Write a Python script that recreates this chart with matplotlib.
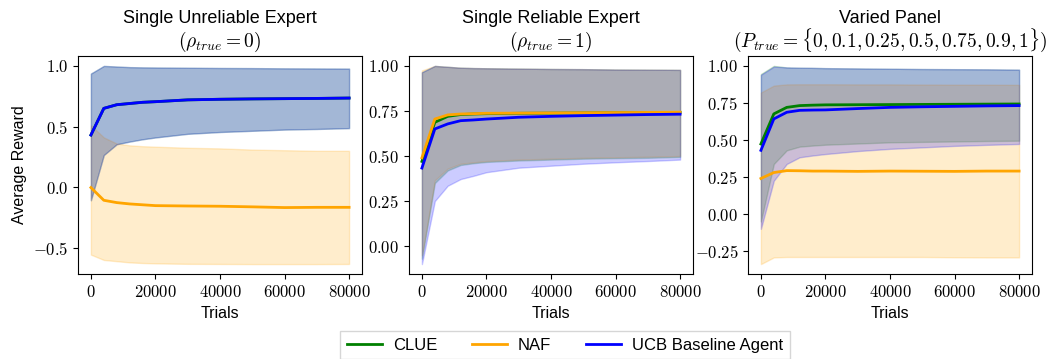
import matplotlib
matplotlib.use("Agg")
from matplotlib import pyplot as plt
from matplotlib.ticker import FuncFormatter

plt.rcParams['font.family'] = ['Liberation Sans', 'DejaVu Sans']
plt.rcParams['mathtext.fontset'] = 'cm'

trials = [0, 4000, 8000, 12000, 16000, 20000, 30000, 40000, 50000, 60000, 70000, 80000]

# Single Unreliable Expert
ucb1_mean = [0.43, 0.65, 0.68, 0.69, 0.70, 0.705, 0.72, 0.725, 0.728, 0.73, 0.732, 0.735]
ucb1_hi = [0.937, 1.0, 0.995, 0.99, 0.988, 0.987, 0.985, 0.983, 0.982, 0.98, 0.979, 0.978]
ucb1_lo = [-0.108, 0.265, 0.354, 0.376, 0.395, 0.41, 0.44, 0.455, 0.465, 0.475, 0.48, 0.487]
clue1_mean = ucb1_mean
clue1_hi = ucb1_hi
clue1_lo = ucb1_lo
naf1_mean = [-0.003, -0.108, -0.127, -0.138, -0.145, -0.152, -0.155, -0.157, -0.162, -0.168, -0.166, -0.166]
naf1_hi = [0.51, 0.41, 0.36, 0.345, 0.338, 0.334, 0.325, 0.32, 0.31, 0.305, 0.30, 0.30]
naf1_lo = [-0.556, -0.60, -0.61, -0.62, -0.625, -0.628, -0.632, -0.633, -0.634, -0.634, -0.634, -0.633]

# Single Reliable Expert
ucb2_mean = [0.433, 0.65, 0.678, 0.696, 0.70, 0.705, 0.715, 0.72, 0.724, 0.727, 0.73, 0.732]
ucb2_hi = [0.965, 1.0, 0.995, 0.99, 0.988, 0.987, 0.985, 0.983, 0.982, 0.98, 0.979, 0.978]
ucb2_lo = [-0.1, 0.25, 0.335, 0.372, 0.39, 0.41, 0.435, 0.446, 0.457, 0.465, 0.472, 0.48]
clue2_mean = [0.47, 0.687, 0.72, 0.73, 0.733, 0.735, 0.737, 0.738, 0.739, 0.74, 0.741, 0.742]
clue2_hi = [0.965, 1.0, 0.995, 0.99, 0.988, 0.987, 0.985, 0.983, 0.982, 0.98, 0.979, 0.978]
clue2_lo = [-0.07, 0.35, 0.42, 0.45, 0.46, 0.467, 0.475, 0.48, 0.485, 0.488, 0.49, 0.495]
naf2_mean = [0.49, 0.705, 0.728, 0.733, 0.735, 0.737, 0.738, 0.739, 0.74, 0.741, 0.742, 0.743]
naf2_hi = [0.975, 1.0, 0.995, 0.99, 0.988, 0.987, 0.985, 0.983, 0.982, 0.98, 0.979, 0.978]
naf2_lo = [-0.05, 0.365, 0.43, 0.457, 0.465, 0.472, 0.48, 0.485, 0.49, 0.493, 0.496, 0.50]

# Varied Panel
ucb3_mean = [0.43, 0.642, 0.687, 0.70, 0.702, 0.703, 0.712, 0.72, 0.724, 0.727, 0.73, 0.732]
ucb3_hi = [0.94, 0.995, 0.99, 0.988, 0.987, 0.985, 0.983, 0.981, 0.979, 0.978, 0.977, 0.975]
ucb3_lo = [-0.10, 0.225, 0.338, 0.383, 0.395, 0.405, 0.425, 0.44, 0.45, 0.46, 0.467, 0.473]
clue3_mean = [0.473, 0.676, 0.72, 0.732, 0.735, 0.737, 0.738, 0.739, 0.74, 0.741, 0.742, 0.743]
clue3_hi = [0.945, 1.0, 0.99, 0.988, 0.987, 0.985, 0.983, 0.981, 0.979, 0.978, 0.977, 0.975]
clue3_lo = [-0.05, 0.338, 0.43, 0.455, 0.462, 0.468, 0.476, 0.484, 0.487, 0.49, 0.493, 0.495]
naf3_mean = [0.24, 0.28, 0.293, 0.292, 0.29, 0.29, 0.288, 0.29, 0.289, 0.288, 0.29, 0.29]
naf3_hi = [0.82, 0.867, 0.875, 0.876, 0.876, 0.876, 0.875, 0.875, 0.874, 0.873, 0.873, 0.872]
naf3_lo = [-0.338, -0.293, -0.29, -0.29, -0.29, -0.29, -0.29, -0.29, -0.29, -0.292, -0.293, -0.293]

titles = ["Single Unreliable Expert", "Single Reliable Expert", "Varied Panel"]
subtitles = ["$(\\rho_{true} = 0)$",
             "$(\\rho_{true} = 1)$",
             "$(P_{true} = \\{0, 0.1, 0.25, 0.5, 0.75, 0.9, 1\\})$"]
agents = ["CLUE", "NAF", "UCB Baseline Agent"]
colors = ["green", "orange", "blue"]

panels = [
    [(clue1_mean, clue1_lo, clue1_hi), (naf1_mean, naf1_lo, naf1_hi), (ucb1_mean, ucb1_lo, ucb1_hi)],
    [(clue2_mean, clue2_lo, clue2_hi), (naf2_mean, naf2_lo, naf2_hi), (ucb2_mean, ucb2_lo, ucb2_hi)],
    [(clue3_mean, clue3_lo, clue3_hi), (naf3_mean, naf3_lo, naf3_hi), (ucb3_mean, ucb3_lo, ucb3_hi)],
]

fig = plt.figure(figsize=(10.5, 3.59), dpi=100, facecolor="white")
lefts = [78, 409, 748]
ydec = ["%.1f", "%.2f", "%.2f"]

for k in range(3):
    ax = fig.add_axes([lefts[k] / 1050, 1 - 274 / 359, 284 / 1050, 218 / 359])
    for (mean, lo, hi), c, name in zip(panels[k], colors, agents):
        ax.fill_between(trials, lo, hi, color=c, alpha=0.2)
        ax.plot(trials, mean, color=c, lw=2, label=name)
    # two-line title: sans text on top, math line below
    ax.annotate(titles[k], xy=(0.5, 1), xycoords="axes fraction", xytext=(0, 23.5),
                textcoords="offset points", ha="center", va="baseline", fontsize=13)
    ax.annotate(subtitles[k], xy=(0.5, 1), xycoords="axes fraction", xytext=(0, 6.5),
                textcoords="offset points", ha="center", va="baseline", fontsize=14)
    ax.set_xlabel("Trials", fontsize=11.5, labelpad=4.5)
    ax.set_xticks([0, 20000, 40000, 60000, 80000])
    ax.xaxis.set_major_formatter(FuncFormatter(lambda v, p: "$%d$" % v))
    fmt = ydec[k]
    ax.yaxis.set_major_formatter(FuncFormatter(lambda v, p, f=fmt: "$" + f % v + "$"))
    ax.tick_params(labelsize=12)
    if k == 0:
        ax.set_ylabel("Average Reward", fontsize=11.5)

handles, labels = ax.get_legend_handles_labels()
fig.legend(handles, labels, loc="upper center", bbox_to_anchor=(565 / 1050, 1 - 331 / 359),
           ncol=3, fontsize=12, fancybox=False, handlelength=2.1, handletextpad=0.66,
           columnspacing=2.1, borderaxespad=0, edgecolor="#cccccc")

fig.savefig("out.png", dpi=100)
